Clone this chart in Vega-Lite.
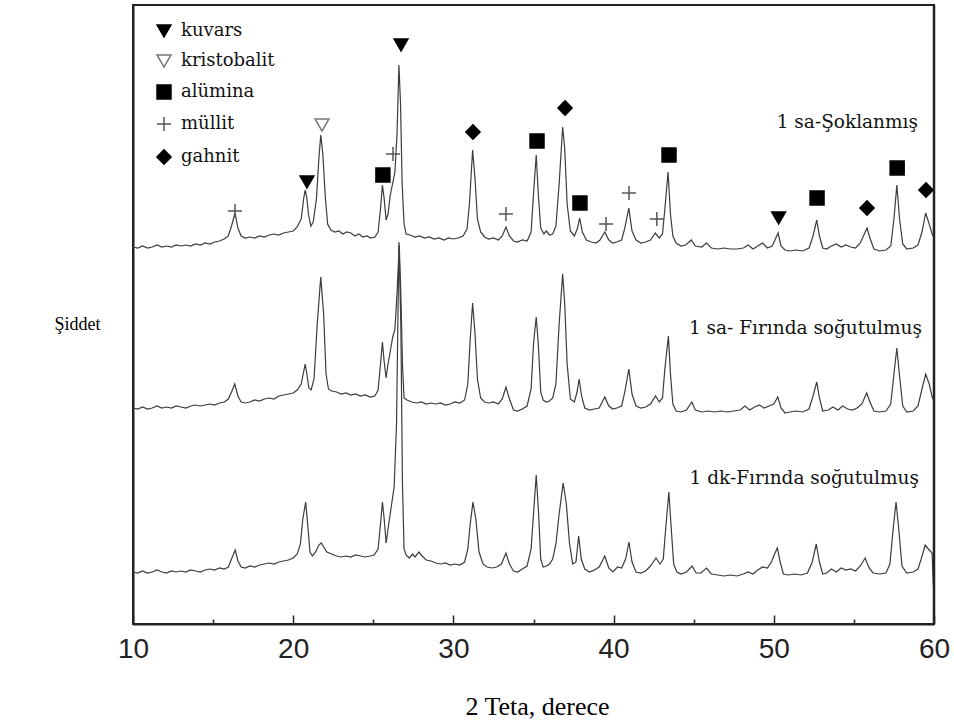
{
 "$schema": "https://vega.github.io/schema/vega-lite/v6.json",
 "width": 801, "height": 619,
 "autosize": {"type": "none"},
 "padding": {"left": 133, "top": 5, "right": 20, "bottom": 100},
 "background": "white",
 "config": {"view": {"stroke": "#222", "strokeWidth": 2},
  "style": {"guide-label": {"font": "DejaVu Serif"}},
  "legend": {"labelFont": "DejaVu Serif", "labelFontSize": 18, "labelColor": "#111", "rowPadding": 11, "labelOffset": 8, "symbolStrokeWidth": 1.5, "padding": 0}},
 "datasets": {
  "frame": [{"edge": "right", "theta": 60}],
  "curves": [
{"series":"A","theta":10.0,"intensity":377},{"series":"A","theta":10.3,"intensity":376},{"series":"A","theta":10.6,"intensity":378},{"series":"A","theta":10.9,"intensity":376},{"series":"A","theta":11.2,"intensity":377},{"series":"A","theta":11.5,"intensity":379},{"series":"A","theta":11.8,"intensity":377},{"series":"A","theta":12.1,"intensity":378},{"series":"A","theta":12.4,"intensity":377},{"series":"A","theta":12.7,"intensity":379},{"series":"A","theta":13.0,"intensity":378},{"series":"A","theta":13.3,"intensity":379},{"series":"A","theta":13.6,"intensity":378},{"series":"A","theta":13.9,"intensity":380},{"series":"A","theta":14.2,"intensity":379},{"series":"A","theta":14.5,"intensity":381},{"series":"A","theta":14.8,"intensity":380},{"series":"A","theta":15.1,"intensity":382},{"series":"A","theta":15.4,"intensity":383},{"series":"A","theta":15.7,"intensity":385},{"series":"A","theta":15.95,"intensity":388},{"series":"A","theta":16.15,"intensity":398},{"series":"A","theta":16.37,"intensity":411},{"series":"A","theta":16.55,"intensity":396},{"series":"A","theta":16.75,"intensity":388},{"series":"A","theta":17.0,"intensity":386},{"series":"A","theta":17.3,"intensity":387},{"series":"A","theta":17.6,"intensity":386},{"series":"A","theta":17.9,"intensity":388},{"series":"A","theta":18.2,"intensity":387},{"series":"A","theta":18.5,"intensity":389},{"series":"A","theta":18.8,"intensity":390},{"series":"A","theta":19.1,"intensity":389},{"series":"A","theta":19.4,"intensity":391},{"series":"A","theta":19.7,"intensity":392},{"series":"A","theta":20.0,"intensity":393},{"series":"A","theta":20.25,"intensity":397},{"series":"A","theta":20.5,"intensity":405},{"series":"A","theta":20.65,"intensity":425},{"series":"A","theta":20.75,"intensity":434},{"series":"A","theta":20.85,"intensity":426},{"series":"A","theta":20.95,"intensity":410},{"series":"A","theta":21.1,"intensity":398},{"series":"A","theta":21.25,"intensity":402},{"series":"A","theta":21.45,"intensity":425},{"series":"A","theta":21.6,"intensity":465},{"series":"A","theta":21.72,"intensity":489},{"series":"A","theta":21.85,"intensity":470},{"series":"A","theta":22.0,"intensity":428},{"series":"A","theta":22.15,"intensity":400},{"series":"A","theta":22.35,"intensity":394},{"series":"A","theta":22.6,"intensity":392},{"series":"A","theta":22.85,"intensity":393},{"series":"A","theta":23.1,"intensity":390},{"series":"A","theta":23.35,"intensity":392},{"series":"A","theta":23.6,"intensity":391},{"series":"A","theta":23.85,"intensity":388},{"series":"A","theta":24.1,"intensity":390},{"series":"A","theta":24.35,"intensity":387},{"series":"A","theta":24.6,"intensity":388},{"series":"A","theta":24.85,"intensity":386},{"series":"A","theta":25.1,"intensity":387},{"series":"A","theta":25.3,"intensity":392},{"series":"A","theta":25.45,"intensity":415},{"series":"A","theta":25.57,"intensity":439},{"series":"A","theta":25.68,"intensity":425},{"series":"A","theta":25.8,"intensity":404},{"series":"A","theta":25.92,"intensity":410},{"series":"A","theta":26.05,"intensity":428},{"series":"A","theta":26.2,"intensity":440},{"series":"A","theta":26.35,"intensity":452},{"series":"A","theta":26.48,"intensity":490},{"series":"A","theta":26.6,"intensity":559},{"series":"A","theta":26.7,"intensity":520},{"series":"A","theta":26.8,"intensity":440},{"series":"A","theta":26.92,"intensity":400},{"series":"A","theta":27.05,"intensity":390},{"series":"A","theta":27.3,"intensity":389},{"series":"A","theta":27.6,"intensity":387},{"series":"A","theta":27.9,"intensity":388},{"series":"A","theta":28.2,"intensity":386},{"series":"A","theta":28.5,"intensity":387},{"series":"A","theta":28.8,"intensity":385},{"series":"A","theta":29.1,"intensity":386},{"series":"A","theta":29.4,"intensity":384},{"series":"A","theta":29.7,"intensity":386},{"series":"A","theta":30.0,"intensity":385},{"series":"A","theta":30.3,"intensity":386},{"series":"A","theta":30.6,"intensity":388},{"series":"A","theta":30.85,"intensity":395},{"series":"A","theta":31.0,"intensity":420},{"series":"A","theta":31.2,"intensity":474},{"series":"A","theta":31.35,"intensity":445},{"series":"A","theta":31.5,"intensity":405},{"series":"A","theta":31.7,"intensity":392},{"series":"A","theta":31.95,"intensity":387},{"series":"A","theta":32.2,"intensity":385},{"series":"A","theta":32.5,"intensity":386},{"series":"A","theta":32.8,"intensity":384},{"series":"A","theta":33.05,"intensity":388},{"series":"A","theta":33.28,"intensity":397},{"series":"A","theta":33.5,"intensity":388},{"series":"A","theta":33.75,"intensity":383},{"series":"A","theta":34.0,"intensity":382},{"series":"A","theta":34.3,"intensity":384},{"series":"A","theta":34.6,"intensity":383},{"series":"A","theta":34.85,"intensity":392},{"series":"A","theta":35.0,"intensity":430},{"series":"A","theta":35.17,"intensity":469},{"series":"A","theta":35.3,"intensity":430},{"series":"A","theta":35.45,"intensity":396},{"series":"A","theta":35.65,"intensity":390},{"series":"A","theta":35.8,"intensity":393},{"series":"A","theta":36.0,"intensity":389},{"series":"A","theta":36.2,"intensity":390},{"series":"A","theta":36.4,"intensity":398},{"series":"A","theta":36.6,"intensity":440},{"series":"A","theta":36.82,"intensity":497},{"series":"A","theta":36.95,"intensity":475},{"series":"A","theta":37.1,"intensity":420},{"series":"A","theta":37.3,"intensity":393},{"series":"A","theta":37.55,"intensity":388},{"series":"A","theta":37.75,"intensity":396},{"series":"A","theta":37.88,"intensity":406},{"series":"A","theta":38.05,"intensity":392},{"series":"A","theta":38.3,"intensity":384},{"series":"A","theta":38.6,"intensity":382},{"series":"A","theta":38.9,"intensity":381},{"series":"A","theta":39.15,"intensity":384},{"series":"A","theta":39.45,"intensity":392},{"series":"A","theta":39.7,"intensity":384},{"series":"A","theta":39.95,"intensity":381},{"series":"A","theta":40.2,"intensity":382},{"series":"A","theta":40.5,"intensity":384},{"series":"A","theta":40.7,"intensity":396},{"series":"A","theta":40.95,"intensity":416},{"series":"A","theta":41.15,"intensity":393},{"series":"A","theta":41.4,"intensity":384},{"series":"A","theta":41.7,"intensity":381},{"series":"A","theta":42.0,"intensity":382},{"series":"A","theta":42.3,"intensity":384},{"series":"A","theta":42.6,"intensity":391},{"series":"A","theta":42.85,"intensity":386},{"series":"A","theta":43.05,"intensity":390},{"series":"A","theta":43.2,"intensity":415},{"series":"A","theta":43.4,"intensity":452},{"series":"A","theta":43.55,"intensity":410},{"series":"A","theta":43.7,"intensity":388},{"series":"A","theta":43.9,"intensity":381},{"series":"A","theta":44.2,"intensity":378},{"series":"A","theta":44.5,"intensity":379},{"series":"A","theta":44.85,"intensity":384},{"series":"A","theta":45.1,"intensity":378},{"series":"A","theta":45.5,"intensity":377},{"series":"A","theta":45.8,"intensity":381},{"series":"A","theta":46.1,"intensity":376},{"series":"A","theta":46.5,"intensity":375},{"series":"A","theta":46.9,"intensity":376},{"series":"A","theta":47.3,"intensity":375},{"series":"A","theta":47.7,"intensity":375},{"series":"A","theta":48.1,"intensity":376},{"series":"A","theta":48.4,"intensity":379},{"series":"A","theta":48.7,"intensity":375},{"series":"A","theta":49.0,"intensity":378},{"series":"A","theta":49.3,"intensity":381},{"series":"A","theta":49.6,"intensity":376},{"series":"A","theta":49.9,"intensity":378},{"series":"A","theta":50.1,"intensity":385},{"series":"A","theta":50.27,"intensity":391},{"series":"A","theta":50.45,"intensity":378},{"series":"A","theta":50.7,"intensity":374},{"series":"A","theta":51.0,"intensity":373},{"series":"A","theta":51.4,"intensity":374},{"series":"A","theta":51.8,"intensity":373},{"series":"A","theta":52.2,"intensity":376},{"series":"A","theta":52.45,"intensity":388},{"series":"A","theta":52.68,"intensity":404},{"series":"A","theta":52.85,"intensity":388},{"series":"A","theta":53.05,"intensity":376},{"series":"A","theta":53.3,"intensity":375},{"series":"A","theta":53.6,"intensity":378},{"series":"A","theta":53.9,"intensity":380},{"series":"A","theta":54.2,"intensity":377},{"series":"A","theta":54.5,"intensity":379},{"series":"A","theta":54.8,"intensity":377},{"series":"A","theta":55.1,"intensity":376},{"series":"A","theta":55.4,"intensity":381},{"series":"A","theta":55.65,"intensity":390},{"series":"A","theta":55.82,"intensity":396},{"series":"A","theta":56.0,"intensity":386},{"series":"A","theta":56.25,"intensity":375},{"series":"A","theta":56.6,"intensity":373},{"series":"A","theta":57.0,"intensity":374},{"series":"A","theta":57.3,"intensity":378},{"series":"A","theta":57.5,"intensity":405},{"series":"A","theta":57.68,"intensity":439},{"series":"A","theta":57.85,"intensity":405},{"series":"A","theta":58.05,"intensity":380},{"series":"A","theta":58.3,"intensity":375},{"series":"A","theta":58.7,"intensity":376},{"series":"A","theta":59.0,"intensity":379},{"series":"A","theta":59.25,"intensity":392},{"series":"A","theta":59.48,"intensity":411},{"series":"A","theta":59.7,"intensity":400},{"series":"A","theta":59.9,"intensity":389},{"series":"A","theta":60.0,"intensity":387},
{"series":"B","theta":10.0,"intensity":216},{"series":"B","theta":10.3,"intensity":215},{"series":"B","theta":10.6,"intensity":217},{"series":"B","theta":10.9,"intensity":215},{"series":"B","theta":11.2,"intensity":216},{"series":"B","theta":11.5,"intensity":218},{"series":"B","theta":11.8,"intensity":216},{"series":"B","theta":12.1,"intensity":217},{"series":"B","theta":12.4,"intensity":216},{"series":"B","theta":12.7,"intensity":218},{"series":"B","theta":13.0,"intensity":217},{"series":"B","theta":13.3,"intensity":216},{"series":"B","theta":13.6,"intensity":218},{"series":"B","theta":13.9,"intensity":219},{"series":"B","theta":14.2,"intensity":218},{"series":"B","theta":14.5,"intensity":219},{"series":"B","theta":14.8,"intensity":220},{"series":"B","theta":15.1,"intensity":219},{"series":"B","theta":15.4,"intensity":221},{"series":"B","theta":15.7,"intensity":222},{"series":"B","theta":15.95,"intensity":225},{"series":"B","theta":16.15,"intensity":232},{"series":"B","theta":16.35,"intensity":240},{"series":"B","theta":16.55,"intensity":228},{"series":"B","theta":16.75,"intensity":222},{"series":"B","theta":17.0,"intensity":221},{"series":"B","theta":17.3,"intensity":222},{"series":"B","theta":17.6,"intensity":224},{"series":"B","theta":17.9,"intensity":223},{"series":"B","theta":18.2,"intensity":225},{"series":"B","theta":18.5,"intensity":226},{"series":"B","theta":18.8,"intensity":225},{"series":"B","theta":19.1,"intensity":228},{"series":"B","theta":19.4,"intensity":229},{"series":"B","theta":19.7,"intensity":230},{"series":"B","theta":20.0,"intensity":231},{"series":"B","theta":20.25,"intensity":234},{"series":"B","theta":20.5,"intensity":240},{"series":"B","theta":20.65,"intensity":252},{"series":"B","theta":20.75,"intensity":260},{"series":"B","theta":20.85,"intensity":250},{"series":"B","theta":20.98,"intensity":236},{"series":"B","theta":21.12,"intensity":234},{"series":"B","theta":21.3,"intensity":245},{"series":"B","theta":21.5,"intensity":300},{"series":"B","theta":21.72,"intensity":347},{"series":"B","theta":21.9,"intensity":310},{"series":"B","theta":22.05,"intensity":250},{"series":"B","theta":22.2,"intensity":235},{"series":"B","theta":22.4,"intensity":233},{"series":"B","theta":22.7,"intensity":232},{"series":"B","theta":23.0,"intensity":230},{"series":"B","theta":23.3,"intensity":231},{"series":"B","theta":23.6,"intensity":229},{"series":"B","theta":23.9,"intensity":230},{"series":"B","theta":24.2,"intensity":228},{"series":"B","theta":24.5,"intensity":229},{"series":"B","theta":24.8,"intensity":227},{"series":"B","theta":25.1,"intensity":228},{"series":"B","theta":25.3,"intensity":234},{"series":"B","theta":25.45,"intensity":260},{"series":"B","theta":25.57,"intensity":282},{"series":"B","theta":25.68,"intensity":262},{"series":"B","theta":25.8,"intensity":246},{"series":"B","theta":25.92,"intensity":260},{"series":"B","theta":26.05,"intensity":272},{"series":"B","theta":26.2,"intensity":286},{"series":"B","theta":26.35,"intensity":295},{"series":"B","theta":26.48,"intensity":330},{"series":"B","theta":26.62,"intensity":379},{"series":"B","theta":26.72,"intensity":330},{"series":"B","theta":26.82,"intensity":260},{"series":"B","theta":26.92,"intensity":226},{"series":"B","theta":27.1,"intensity":224},{"series":"B","theta":27.4,"intensity":222},{"series":"B","theta":27.7,"intensity":221},{"series":"B","theta":28.0,"intensity":222},{"series":"B","theta":28.3,"intensity":220},{"series":"B","theta":28.6,"intensity":221},{"series":"B","theta":28.9,"intensity":220},{"series":"B","theta":29.2,"intensity":221},{"series":"B","theta":29.5,"intensity":219},{"series":"B","theta":29.8,"intensity":220},{"series":"B","theta":30.1,"intensity":222},{"series":"B","theta":30.4,"intensity":221},{"series":"B","theta":30.7,"intensity":224},{"series":"B","theta":30.9,"intensity":240},{"series":"B","theta":31.05,"intensity":285},{"series":"B","theta":31.2,"intensity":321},{"series":"B","theta":31.35,"intensity":290},{"series":"B","theta":31.5,"intensity":245},{"series":"B","theta":31.7,"intensity":226},{"series":"B","theta":31.95,"intensity":222},{"series":"B","theta":32.2,"intensity":221},{"series":"B","theta":32.5,"intensity":222},{"series":"B","theta":32.8,"intensity":220},{"series":"B","theta":33.05,"intensity":225},{"series":"B","theta":33.28,"intensity":237},{"series":"B","theta":33.5,"intensity":225},{"series":"B","theta":33.75,"intensity":214},{"series":"B","theta":34.0,"intensity":213},{"series":"B","theta":34.3,"intensity":215},{"series":"B","theta":34.6,"intensity":218},{"series":"B","theta":34.85,"intensity":235},{"series":"B","theta":35.0,"intensity":280},{"series":"B","theta":35.17,"intensity":307},{"series":"B","theta":35.3,"intensity":280},{"series":"B","theta":35.45,"intensity":232},{"series":"B","theta":35.6,"intensity":224},{"series":"B","theta":35.8,"intensity":222},{"series":"B","theta":36.0,"intensity":223},{"series":"B","theta":36.2,"intensity":226},{"series":"B","theta":36.4,"intensity":240},{"series":"B","theta":36.6,"intensity":300},{"series":"B","theta":36.82,"intensity":350},{"series":"B","theta":36.95,"intensity":320},{"series":"B","theta":37.1,"intensity":260},{"series":"B","theta":37.3,"intensity":225},{"series":"B","theta":37.55,"intensity":222},{"series":"B","theta":37.72,"intensity":232},{"series":"B","theta":37.85,"intensity":245},{"series":"B","theta":38.0,"intensity":228},{"series":"B","theta":38.2,"intensity":216},{"series":"B","theta":38.5,"intensity":214},{"series":"B","theta":38.8,"intensity":215},{"series":"B","theta":39.1,"intensity":216},{"series":"B","theta":39.45,"intensity":227},{"series":"B","theta":39.7,"intensity":218},{"series":"B","theta":39.95,"intensity":215},{"series":"B","theta":40.2,"intensity":216},{"series":"B","theta":40.5,"intensity":218},{"series":"B","theta":40.7,"intensity":232},{"series":"B","theta":40.95,"intensity":255},{"series":"B","theta":41.15,"intensity":230},{"series":"B","theta":41.4,"intensity":218},{"series":"B","theta":41.7,"intensity":216},{"series":"B","theta":42.0,"intensity":217},{"series":"B","theta":42.3,"intensity":220},{"series":"B","theta":42.62,"intensity":228},{"series":"B","theta":42.85,"intensity":222},{"series":"B","theta":43.05,"intensity":226},{"series":"B","theta":43.2,"intensity":255},{"series":"B","theta":43.42,"intensity":288},{"series":"B","theta":43.55,"intensity":250},{"series":"B","theta":43.7,"intensity":220},{"series":"B","theta":43.9,"intensity":213},{"series":"B","theta":44.2,"intensity":212},{"series":"B","theta":44.55,"intensity":214},{"series":"B","theta":44.88,"intensity":222},{"series":"B","theta":45.1,"intensity":214},{"series":"B","theta":45.5,"intensity":212},{"series":"B","theta":45.9,"intensity":213},{"series":"B","theta":46.3,"intensity":212},{"series":"B","theta":46.7,"intensity":213},{"series":"B","theta":47.1,"intensity":212},{"series":"B","theta":47.5,"intensity":213},{"series":"B","theta":47.9,"intensity":214},{"series":"B","theta":48.2,"intensity":218},{"series":"B","theta":48.5,"intensity":214},{"series":"B","theta":48.8,"intensity":217},{"series":"B","theta":49.1,"intensity":219},{"series":"B","theta":49.4,"intensity":216},{"series":"B","theta":49.7,"intensity":218},{"series":"B","theta":50.0,"intensity":220},{"series":"B","theta":50.25,"intensity":227},{"series":"B","theta":50.45,"intensity":216},{"series":"B","theta":50.7,"intensity":211},{"series":"B","theta":51.0,"intensity":212},{"series":"B","theta":51.4,"intensity":213},{"series":"B","theta":51.8,"intensity":212},{"series":"B","theta":52.2,"intensity":215},{"series":"B","theta":52.45,"intensity":228},{"series":"B","theta":52.68,"intensity":242},{"series":"B","theta":52.85,"intensity":226},{"series":"B","theta":53.05,"intensity":213},{"series":"B","theta":53.4,"intensity":214},{"series":"B","theta":53.7,"intensity":217},{"series":"B","theta":54.0,"intensity":214},{"series":"B","theta":54.3,"intensity":218},{"series":"B","theta":54.6,"intensity":215},{"series":"B","theta":54.9,"intensity":214},{"series":"B","theta":55.2,"intensity":216},{"series":"B","theta":55.5,"intensity":220},{"series":"B","theta":55.8,"intensity":231},{"series":"B","theta":56.0,"intensity":222},{"series":"B","theta":56.25,"intensity":213},{"series":"B","theta":56.6,"intensity":212},{"series":"B","theta":57.0,"intensity":213},{"series":"B","theta":57.3,"intensity":220},{"series":"B","theta":57.5,"intensity":250},{"series":"B","theta":57.68,"intensity":276},{"series":"B","theta":57.85,"intensity":248},{"series":"B","theta":58.05,"intensity":218},{"series":"B","theta":58.3,"intensity":212},{"series":"B","theta":58.7,"intensity":213},{"series":"B","theta":59.0,"intensity":218},{"series":"B","theta":59.25,"intensity":235},{"series":"B","theta":59.48,"intensity":250},{"series":"B","theta":59.7,"intensity":240},{"series":"B","theta":59.9,"intensity":226},{"series":"B","theta":60.0,"intensity":224},
{"series":"C","theta":10.0,"intensity":52},{"series":"C","theta":10.3,"intensity":51},{"series":"C","theta":10.6,"intensity":53},{"series":"C","theta":10.9,"intensity":51},{"series":"C","theta":11.2,"intensity":52},{"series":"C","theta":11.5,"intensity":54},{"series":"C","theta":11.8,"intensity":52},{"series":"C","theta":12.1,"intensity":51},{"series":"C","theta":12.4,"intensity":53},{"series":"C","theta":12.7,"intensity":52},{"series":"C","theta":13.0,"intensity":53},{"series":"C","theta":13.3,"intensity":52},{"series":"C","theta":13.6,"intensity":54},{"series":"C","theta":13.9,"intensity":53},{"series":"C","theta":14.2,"intensity":52},{"series":"C","theta":14.5,"intensity":54},{"series":"C","theta":14.8,"intensity":55},{"series":"C","theta":15.1,"intensity":54},{"series":"C","theta":15.4,"intensity":56},{"series":"C","theta":15.7,"intensity":55},{"series":"C","theta":15.95,"intensity":57},{"series":"C","theta":16.15,"intensity":65},{"series":"C","theta":16.38,"intensity":74},{"series":"C","theta":16.55,"intensity":63},{"series":"C","theta":16.75,"intensity":57},{"series":"C","theta":17.0,"intensity":56},{"series":"C","theta":17.3,"intensity":58},{"series":"C","theta":17.6,"intensity":57},{"series":"C","theta":17.9,"intensity":59},{"series":"C","theta":18.2,"intensity":60},{"series":"C","theta":18.5,"intensity":61},{"series":"C","theta":18.8,"intensity":60},{"series":"C","theta":19.1,"intensity":62},{"series":"C","theta":19.4,"intensity":63},{"series":"C","theta":19.7,"intensity":64},{"series":"C","theta":20.0,"intensity":66},{"series":"C","theta":20.25,"intensity":70},{"series":"C","theta":20.45,"intensity":80},{"series":"C","theta":20.6,"intensity":105},{"series":"C","theta":20.78,"intensity":122},{"series":"C","theta":20.9,"intensity":100},{"series":"C","theta":21.05,"intensity":72},{"series":"C","theta":21.2,"intensity":68},{"series":"C","theta":21.4,"intensity":72},{"series":"C","theta":21.6,"intensity":79},{"series":"C","theta":21.75,"intensity":81},{"series":"C","theta":21.9,"intensity":77},{"series":"C","theta":22.1,"intensity":72},{"series":"C","theta":22.4,"intensity":70},{"series":"C","theta":22.7,"intensity":68},{"series":"C","theta":23.0,"intensity":67},{"series":"C","theta":23.3,"intensity":68},{"series":"C","theta":23.6,"intensity":67},{"series":"C","theta":23.9,"intensity":69},{"series":"C","theta":24.2,"intensity":68},{"series":"C","theta":24.5,"intensity":67},{"series":"C","theta":24.8,"intensity":68},{"series":"C","theta":25.05,"intensity":69},{"series":"C","theta":25.3,"intensity":75},{"series":"C","theta":25.45,"intensity":100},{"series":"C","theta":25.57,"intensity":122},{"series":"C","theta":25.68,"intensity":105},{"series":"C","theta":25.8,"intensity":81},{"series":"C","theta":25.92,"intensity":95},{"series":"C","theta":26.1,"intensity":115},{"series":"C","theta":26.3,"intensity":137},{"series":"C","theta":26.45,"intensity":200},{"series":"C","theta":26.6,"intensity":382},{"series":"C","theta":26.72,"intensity":300},{"series":"C","theta":26.82,"intensity":140},{"series":"C","theta":26.92,"intensity":75},{"series":"C","theta":27.05,"intensity":69},{"series":"C","theta":27.25,"intensity":66},{"series":"C","theta":27.45,"intensity":70},{"series":"C","theta":27.6,"intensity":67},{"series":"C","theta":27.85,"intensity":72},{"series":"C","theta":28.05,"intensity":68},{"series":"C","theta":28.3,"intensity":64},{"series":"C","theta":28.6,"intensity":63},{"series":"C","theta":28.9,"intensity":61},{"series":"C","theta":29.2,"intensity":60},{"series":"C","theta":29.5,"intensity":61},{"series":"C","theta":29.8,"intensity":59},{"series":"C","theta":30.1,"intensity":60},{"series":"C","theta":30.4,"intensity":59},{"series":"C","theta":30.7,"intensity":62},{"series":"C","theta":30.9,"intensity":75},{"series":"C","theta":31.05,"intensity":100},{"series":"C","theta":31.22,"intensity":122},{"series":"C","theta":31.4,"intensity":105},{"series":"C","theta":31.6,"intensity":72},{"series":"C","theta":31.85,"intensity":60},{"series":"C","theta":32.1,"intensity":57},{"series":"C","theta":32.4,"intensity":56},{"series":"C","theta":32.7,"intensity":57},{"series":"C","theta":33.0,"intensity":60},{"series":"C","theta":33.28,"intensity":71},{"series":"C","theta":33.5,"intensity":60},{"series":"C","theta":33.75,"intensity":53},{"series":"C","theta":34.0,"intensity":52},{"series":"C","theta":34.3,"intensity":55},{"series":"C","theta":34.6,"intensity":58},{"series":"C","theta":34.85,"intensity":75},{"series":"C","theta":35.0,"intensity":110},{"series":"C","theta":35.17,"intensity":149},{"series":"C","theta":35.32,"intensity":110},{"series":"C","theta":35.45,"intensity":65},{"series":"C","theta":35.6,"intensity":57},{"series":"C","theta":35.8,"intensity":58},{"series":"C","theta":36.0,"intensity":60},{"series":"C","theta":36.2,"intensity":65},{"series":"C","theta":36.4,"intensity":80},{"series":"C","theta":36.6,"intensity":110},{"series":"C","theta":36.85,"intensity":141},{"series":"C","theta":37.05,"intensity":120},{"series":"C","theta":37.25,"intensity":80},{"series":"C","theta":37.45,"intensity":60},{"series":"C","theta":37.65,"intensity":62},{"series":"C","theta":37.82,"intensity":88},{"series":"C","theta":37.98,"intensity":65},{"series":"C","theta":38.2,"intensity":55},{"series":"C","theta":38.5,"intensity":52},{"series":"C","theta":38.8,"intensity":54},{"series":"C","theta":39.1,"intensity":57},{"series":"C","theta":39.45,"intensity":68},{"series":"C","theta":39.7,"intensity":56},{"series":"C","theta":39.95,"intensity":52},{"series":"C","theta":40.25,"intensity":57},{"series":"C","theta":40.5,"intensity":56},{"series":"C","theta":40.75,"intensity":65},{"series":"C","theta":40.96,"intensity":82},{"series":"C","theta":41.15,"intensity":62},{"series":"C","theta":41.4,"intensity":52},{"series":"C","theta":41.7,"intensity":51},{"series":"C","theta":42.0,"intensity":53},{"series":"C","theta":42.3,"intensity":58},{"series":"C","theta":42.65,"intensity":66},{"series":"C","theta":42.9,"intensity":60},{"series":"C","theta":43.1,"intensity":65},{"series":"C","theta":43.25,"intensity":95},{"series":"C","theta":43.45,"intensity":132},{"series":"C","theta":43.6,"intensity":95},{"series":"C","theta":43.75,"intensity":60},{"series":"C","theta":43.95,"intensity":52},{"series":"C","theta":44.2,"intensity":50},{"series":"C","theta":44.55,"intensity":52},{"series":"C","theta":44.9,"intensity":58},{"series":"C","theta":45.15,"intensity":51},{"series":"C","theta":45.45,"intensity":51},{"series":"C","theta":45.8,"intensity":56},{"series":"C","theta":46.1,"intensity":50},{"series":"C","theta":46.5,"intensity":49},{"series":"C","theta":46.9,"intensity":48},{"series":"C","theta":47.3,"intensity":49},{"series":"C","theta":47.7,"intensity":48},{"series":"C","theta":48.1,"intensity":50},{"series":"C","theta":48.4,"intensity":52},{"series":"C","theta":48.7,"intensity":50},{"series":"C","theta":49.0,"intensity":54},{"series":"C","theta":49.3,"intensity":57},{"series":"C","theta":49.6,"intensity":56},{"series":"C","theta":49.85,"intensity":62},{"series":"C","theta":50.05,"intensity":70},{"series":"C","theta":50.22,"intensity":76},{"series":"C","theta":50.4,"intensity":62},{"series":"C","theta":50.6,"intensity":50},{"series":"C","theta":50.9,"intensity":49},{"series":"C","theta":51.3,"intensity":50},{"series":"C","theta":51.7,"intensity":49},{"series":"C","theta":52.1,"intensity":51},{"series":"C","theta":52.4,"intensity":62},{"series":"C","theta":52.65,"intensity":80},{"series":"C","theta":52.85,"intensity":62},{"series":"C","theta":53.05,"intensity":50},{"series":"C","theta":53.3,"intensity":51},{"series":"C","theta":53.6,"intensity":55},{"series":"C","theta":53.9,"intensity":52},{"series":"C","theta":54.2,"intensity":56},{"series":"C","theta":54.5,"intensity":54},{"series":"C","theta":54.8,"intensity":55},{"series":"C","theta":55.1,"intensity":53},{"series":"C","theta":55.4,"intensity":58},{"series":"C","theta":55.7,"intensity":66},{"series":"C","theta":55.95,"intensity":56},{"series":"C","theta":56.2,"intensity":51},{"series":"C","theta":56.6,"intensity":50},{"series":"C","theta":57.0,"intensity":51},{"series":"C","theta":57.25,"intensity":60},{"series":"C","theta":57.45,"intensity":95},{"series":"C","theta":57.63,"intensity":122},{"series":"C","theta":57.8,"intensity":95},{"series":"C","theta":58.0,"intensity":58},{"series":"C","theta":58.3,"intensity":51},{"series":"C","theta":58.7,"intensity":52},{"series":"C","theta":59.0,"intensity":55},{"series":"C","theta":59.2,"intensity":65},{"series":"C","theta":59.45,"intensity":79},{"series":"C","theta":59.65,"intensity":75},{"series":"C","theta":59.88,"intensity":71},{"series":"C","theta":59.97,"intensity":36}
  ],
  "markers": [
   {"phase":"kuvars","theta":20.86,"intensity":442},
   {"phase":"kuvars","theta":26.73,"intensity":579},
   {"phase":"kuvars","theta":50.3,"intensity":406},
   {"phase":"kristobalit","theta":21.8,"intensity":499},
   {"phase":"alümina","theta":25.6,"intensity":449},
   {"phase":"alümina","theta":35.22,"intensity":483},
   {"phase":"alümina","theta":37.9,"intensity":421},
   {"phase":"alümina","theta":43.46,"intensity":469},
   {"phase":"alümina","theta":52.7,"intensity":426},
   {"phase":"alümina","theta":57.7,"intensity":456},
   {"phase":"müllit","theta":16.37,"intensity":413},
   {"phase":"müllit","theta":26.23,"intensity":470},
   {"phase":"müllit","theta":33.28,"intensity":410},
   {"phase":"müllit","theta":39.53,"intensity":400},
   {"phase":"müllit","theta":40.96,"intensity":431},
   {"phase":"müllit","theta":42.7,"intensity":405},
   {"phase":"gahnit","theta":31.22,"intensity":492},
   {"phase":"gahnit","theta":36.97,"intensity":516},
   {"phase":"gahnit","theta":55.82,"intensity":416},
   {"phase":"gahnit","theta":59.5,"intensity":434}
  ],
  "labels": [
   {"label":"1 sa-Şoklanmış","theta":59.0,"intensity":502},
   {"label":"1 sa- Fırında soğutulmuş","theta":59.25,"intensity":296},
   {"label":"1 dk-Fırında soğutulmuş","theta":59.06,"intensity":146}
  ]
 },
 "layer": [
  {"data": {"name": "curves"},
   "mark": {"type": "line", "color": "#3c3c3c", "strokeWidth": 1.2},
   "encoding": {
    "x": {"field": "theta", "type": "quantitative",
     "scale": {"domain": [10, 60], "nice": false, "zero": false},
     "axis": {"title": "2 Teta, derece", "values": [10,15,20,25,30,35,40,45,50,55,60],
      "labelExpr": "datum.value % 10 === 0 ? datum.label : ''",
      "tickSize": {"condition": {"test": "datum.value % 10 === 0", "value": -9}, "value": -5},
      "tickColor": "#222", "tickWidth": 1.5,
      "labelFont": "Liberation Sans", "labelFontSize": 28, "labelColor": "#222", "labelPadding": 20,
      "labelFlush": false, "labelOverlap": false, "grid": false,
      "domain": true, "domainColor": "#222", "domainWidth": 2,
      "titleFont": "Liberation Serif", "titleFontSize": 26, "titleFontWeight": "normal", "titleColor": "#000",
      "titleX": 404, "titleY": 82, "titleBaseline": "middle", "titleAlign": "center"}},
    "y": {"field": "intensity", "type": "quantitative",
     "scale": {"domain": [0, 619], "nice": false, "zero": false},
     "axis": {"title": "Şiddet", "labels": false, "ticks": false, "grid": false,
      "domain": true, "domainColor": "#222", "domainWidth": 2,
      "titleAngle": 0, "titleFont": "Liberation Serif", "titleFontSize": 18, "titleFontWeight": "normal", "titleColor": "#000",
      "titleX": -56, "titleY": 319, "titleAlign": "center", "titleBaseline": "middle"}},
    "detail": {"field": "series", "type": "nominal"}}},
  {"data": {"name": "markers"},
   "mark": {"type": "point", "filled": true, "strokeWidth": 1.5, "opacity": 1},
   "encoding": {
    "x": {"field": "theta", "type": "quantitative"},
    "y": {"field": "intensity", "type": "quantitative"},
    "shape": {"field": "phase", "type": "nominal",
     "scale": {"domain": ["kuvars","kristobalit","alümina","müllit","gahnit"], "range": ["triangle-down","triangle-down","square","M-1,0H1M0,-1V1","diamond"]},
     "legend": {"title": null, "orient": "none", "legendX": 22, "legendY": 17, "labelFont": "DejaVu Serif"}},
    "fill": {"field": "phase", "type": "nominal",
     "scale": {"domain": ["kuvars","kristobalit","alümina","müllit","gahnit"], "range": ["#000","#fff","#000","#fff","#000"]},
     "legend": {"title": null, "orient": "none", "legendX": 22, "legendY": 17, "labelFont": "DejaVu Serif"}},
    "stroke": {"field": "phase", "type": "nominal",
     "scale": {"domain": ["kuvars","kristobalit","alümina","müllit","gahnit"], "range": ["#000","#777","#000","#555","#000"]},
     "legend": {"title": null, "orient": "none", "legendX": 22, "legendY": 17, "labelFont": "DejaVu Serif"}},
    "size": {"field": "phase", "type": "nominal",
     "scale": {"domain": ["kuvars","kristobalit","alümina","müllit","gahnit"], "range": [190, 200, 115, 90, 190]},
     "legend": {"title": null, "orient": "none", "legendX": 22, "legendY": 17, "labelFont": "DejaVu Serif"}}
   }},
  {"data": {"name": "labels"},
   "mark": {"type": "text", "align": "right", "baseline": "middle", "font": "DejaVu Serif", "fontSize": 18.5, "color": "#111"},
   "encoding": {
    "x": {"field": "theta", "type": "quantitative"},
    "y": {"field": "intensity", "type": "quantitative"},
    "text": {"field": "label", "type": "nominal"}}},
  {"data": {"name": "frame"},
   "mark": {"type": "rule", "color": "#222", "strokeWidth": 2.5},
   "encoding": {"x": {"field": "theta", "type": "quantitative"}}}
 ]
}
